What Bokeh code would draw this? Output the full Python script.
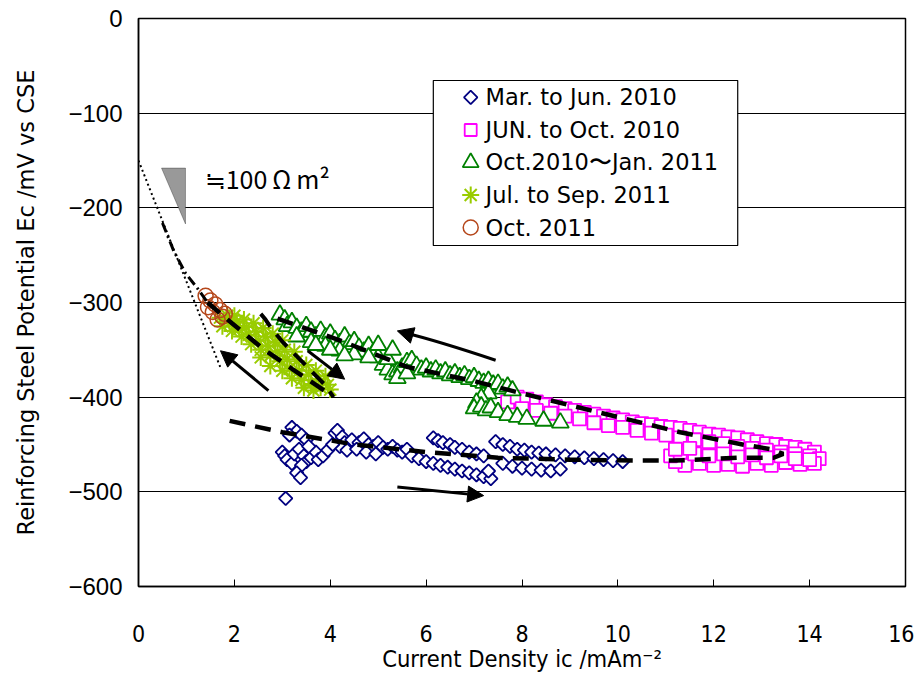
import numpy as np
from bokeh.plotting import figure
from bokeh.models import FixedTicker, Label, Arrow, NormalHead, PolyAnnotation, Range1d
from bokeh.embed import file_html
from bokeh.resources import INLINE

# ---------------- data ----------------
x_ticks = [0, 2, 4, 6, 8, 10, 12, 14, 16]
y_ticks = [-600, -500, -400, -300, -200, -100, 0]
y_tick_labels = ["\u2212600", "\u2212500", "\u2212400", "\u2212300", "\u2212200", "\u2212100", "0"]

series_names = ["Mar. to Jun. 2010", "JUN. to Oct. 2010", "Oct.2010\u301cJan. 2011",
                "Jul. to Sep. 2011", "Oct. 2011"]

mar_jun_2010 = [
    (3.2, -432), (3.3, -436), (3.4, -440), (3.5, -445), (3.15, -440),
    (3.0, -458), (3.05, -462), (3.1, -466), (3.2, -470), (3.25, -460), (3.35, -455),
    (3.45, -462), (3.5, -468), (3.6, -464), (3.7, -458), (3.75, -466), (3.85, -462),
    (3.95, -456), (3.4, -472), (3.55, -452),
    (3.3, -480), (3.38, -485), (3.07, -507),
    (4.1, -438), (4.15, -435), (4.25, -442), (4.3, -448), (4.2, -452), (4.35, -456), (4.05, -450),
    (4.45, -445), (4.6, -448), (4.7, -444), (4.8, -450), (4.9, -452), (5.0, -448), (5.1, -453),
    (5.2, -455), (5.3, -452), (5.4, -456), (5.5, -458), (5.6, -455), (4.55, -455), (4.75, -458),
    (4.95, -460),
    (5.7, -462), (5.85, -465), (6.0, -468), (6.15, -470), (6.3, -472), (6.45, -474), (6.6, -476),
    (6.75, -478), (6.9, -480), (7.05, -482), (7.2, -484), (7.35, -486), (7.3, -478),
    (6.15, -443), (6.25, -446), (6.35, -448), (6.5, -450), (6.6, -453), (6.75, -455), (6.9, -458),
    (7.05, -460), (7.2, -462),
    (7.45, -447), (7.6, -450), (7.75, -452), (7.9, -455), (8.05, -456), (8.2, -458), (8.35, -459),
    (8.5, -460), (8.7, -461), (8.9, -462), (9.1, -463), (9.3, -464), (9.5, -465), (9.7, -466),
    (9.9, -467), (10.1, -468),
    (7.6, -470), (7.8, -473), (8.0, -475), (8.2, -476), (8.4, -477), (8.6, -478), (8.8, -476),
]

jun_oct_2010 = [
    (7.7, -405), (7.9, -400), (8.1, -402), (8.3, -405), (8.5, -408), (8.7, -410), (8.9, -412),
    (9.1, -414), (9.3, -416), (9.5, -418), (9.7, -420), (9.9, -422), (10.1, -424), (10.3, -426),
    (10.5, -428), (10.7, -429), (10.9, -431), (11.1, -432), (11.3, -433), (11.5, -435), (11.7, -437),
    (11.9, -439), (12.1, -440), (12.3, -442), (12.5, -443), (12.7, -445), (12.9, -447), (13.1, -449),
    (13.3, -450), (13.5, -452), (13.7, -453), (13.9, -455), (14.1, -458),
    (8.0, -412), (8.3, -414), (8.6, -417), (8.9, -420), (9.2, -423), (9.5, -427), (9.8, -430),
    (10.1, -432), (10.4, -435), (10.7, -438), (11.0, -440), (11.3, -443), (11.6, -445), (11.9, -447),
    (12.2, -449), (12.5, -452), (12.8, -454), (13.1, -456), (13.4, -458), (13.7, -460), (14.0, -462),
    (14.2, -465),
    (14.1, -470), (13.8, -471), (13.5, -469), (13.2, -472), (12.9, -470), (12.6, -473), (12.3, -471),
    (12.0, -472), (11.7, -470), (11.4, -472), (11.2, -468), (11.1, -462), (11.3, -458), (11.6, -460),
    (11.9, -462), (12.2, -460), (12.5, -463), (12.8, -461), (13.1, -464), (13.4, -462), (13.7, -465),
    (14.0, -466), (11.2, -455), (11.5, -454),
]

oct2010_jan2011 = [
    (2.95, -313), (3.05, -318), (3.1, -325), (3.2, -321), (3.3, -327), (3.4, -331), (3.5, -325),
    (3.6, -331), (3.7, -336), (3.8, -330), (3.9, -337), (4.0, -333), (4.1, -340), (4.2, -343),
    (4.3, -336), (4.4, -344), (4.5, -341), (4.6, -348), (4.7, -352), (4.8, -346), (4.9, -353),
    (5.0, -358), (5.1, -366), (5.2, -371), (5.3, -376), (5.4, -373), (5.5, -369), (5.6, -363),
    (5.7, -361), (5.8, -367), (5.9, -371), (6.0, -369), (6.1, -373), (6.2, -371), (6.3, -375),
    (6.4, -373), (6.5, -377), (6.6, -375), (6.7, -379), (6.8, -377), (6.9, -381), (7.0, -379),
    (7.1, -383), (7.2, -385), (7.3, -383), (7.4, -387), (7.5, -386), (7.6, -391), (7.7, -389),
    (7.8, -393), (7.3, -396), (7.15, -401), (7.05, -406), (7.0, -412), (7.15, -410), (7.25, -414),
    (7.35, -411), (7.5, -416), (7.7, -419), (7.9, -421), (8.1, -423), (8.45, -425), (8.8, -427),
    (3.3, -336), (3.6, -342), (3.9, -346), (4.2, -351), (4.5, -355), (4.8, -358), (4.3, -356),
    (4.0, -350), (3.7, -345), (5.0, -345), (5.2, -360), (5.4, -380), (5.6, -375), (5.3, -350),
]

jul_sep_2011 = [
    (1.7, -316), (1.75, -325), (1.85, -314), (1.9, -322), (1.95, -330), (2.0, -314), (2.05, -320),
    (2.1, -328), (2.15, -336), (2.2, -318), (2.25, -326), (2.3, -334), (2.35, -344), (2.4, -322),
    (2.45, -331), (2.5, -340), (2.55, -350), (2.6, -327), (2.65, -336), (2.7, -346), (2.75, -356),
    (2.8, -333), (2.85, -342), (2.9, -352), (2.95, -362), (3.0, -372), (3.0, -340), (3.05, -350),
    (3.1, -360), (3.15, -370), (3.2, -380), (3.25, -352), (3.3, -362), (3.35, -372), (3.4, -382),
    (3.45, -390), (3.5, -366), (3.55, -376), (3.6, -386), (3.65, -393), (3.7, -372), (3.75, -381),
    (3.8, -390), (3.9, -378), (3.95, -387), (4.0, -392), (2.75, -367), (2.55, -358),
]

oct_2011 = [
    (1.4, -293), (1.5, -298), (1.45, -305), (1.6, -302), (1.55, -310), (1.7, -308), (1.75, -315),
    (1.65, -318), (1.8, -312),
]

# hand-drawn trend lines of the original
trend_main_x = [2.9, 4.2, 5.6, 7.0, 8.0, 9.6, 11.3, 12.6, 13.2, 13.45, 13.25, 12.5, 11.2, 10.5, 9.0, 7.5, 6.0, 4.5, 3.0, 1.9]
trend_main_y = [-317, -340, -368, -383, -396, -416, -437, -450, -455, -460, -464, -464, -467, -467, -466, -464, -458, -450, -437, -425]
trend_jul_x = [1.44, 1.95, 2.6, 3.2, 3.7, 4.05]
trend_jul_y = [-300, -322, -349, -370, -387, -399]
trend_arc_x = [2.55, 2.65, 2.78, 3.03, 3.52, 3.87, 4.07]
trend_arc_y = [-312, -318, -328, -343, -368, -386, -400]
trend_dashdot_x = [0.5, 0.73, 0.98, 1.23, 1.44]
trend_dashdot_y = [-216, -245, -269, -285, -300]
slope_dotted_x = [0.0, 1.72]
slope_dotted_y = [-150, -370]

# ---------------- figure ----------------
p = figure(width=914, height=676, output_backend="svg", toolbar_location=None,
           x_range=Range1d(0, 16), y_range=Range1d(-600, 0),
           min_border_left=138, min_border_right=9, min_border_top=18, min_border_bottom=90)
p.background_fill_color = "white"
p.border_fill_color = "white"
p.outline_line_color = "black"
p.outline_line_width = 1.5

p.xgrid.grid_line_color = None
p.ygrid.grid_line_color = "black"
p.ygrid.grid_line_width = 1

p.xaxis.ticker = FixedTicker(ticks=x_ticks)
p.yaxis.ticker = FixedTicker(ticks=y_ticks)
p.yaxis.major_label_overrides = {t: l for t, l in zip(y_ticks, y_tick_labels)}
for ax in (p.xaxis, p.yaxis):
    ax.axis_line_color = "black"
    ax.axis_line_width = 1.5
    ax.minor_tick_line_color = None
    ax.major_tick_line_color = "black"
    ax.major_label_text_color = "black"
    ax.axis_label_text_color = "black"
    ax.axis_label_text_font_style = "normal"
p.xaxis.major_tick_in = 7
p.xaxis.major_tick_out = 0
p.yaxis.major_tick_in = 0
p.yaxis.major_tick_out = 0

NARROW = "'DejaVu Sans Condensed', Roboto, sans-serif"
p.xaxis.major_label_text_font = NARROW
p.xaxis.major_label_text_font_size = "23px"
p.xaxis.major_label_standoff = 38
p.xaxis.axis_label = "Current Density ic /mAm\u207b\u00b2"
p.xaxis.axis_label_text_font = NARROW
p.xaxis.axis_label_text_font_size = "23.5px"
p.xaxis.axis_label_standoff = 0

p.yaxis.major_label_text_font = "Liberation Sans"
p.yaxis.major_label_text_font_size = "24px"
p.yaxis.major_label_standoff = 16
p.yaxis.axis_label = "Reinforcing Steel Potential Ec /mV vs CSE"
p.yaxis.axis_label_text_font = "DejaVu Sans"
p.yaxis.axis_label_text_font_size = "22.5px"
p.yaxis.axis_label_standoff = 26

NAVY = "#000080"
MAGENTA = "#FF00FF"
GREEN = "#008000"
YGREEN = "#99CC00"
BROWN = "#B5471B"

def xs(pts):
    return [a for a, b in pts]

def ys(pts):
    return [b for a, b in pts]

p.scatter(xs(mar_jun_2010), ys(mar_jun_2010), marker="square", angle=np.pi / 4, size=9.5,
          line_color=NAVY, line_width=1.8, fill_color="white")
p.scatter(xs(jun_oct_2010), ys(jun_oct_2010), marker="square", size=13,
          line_color=MAGENTA, line_width=1.8, fill_color="white")
p.scatter(xs(oct2010_jan2011), ys(oct2010_jan2011), marker="triangle", size=17,
          line_color=GREEN, line_width=1.8, fill_color="white")
p.scatter(xs(jul_sep_2011), ys(jul_sep_2011), marker="asterisk", size=17,
          line_color=YGREEN, line_width=2)
p.scatter(xs(oct_2011), ys(oct_2011), marker="circle", size=15,
          line_color=BROWN, line_width=1.5, fill_color=None)

# trend lines
p.line(trend_main_x, trend_main_y, line_color="black", line_width=4.5, line_dash="16 10")
p.line(trend_jul_x, trend_jul_y, line_color="black", line_width=4.5, line_dash="16 10")
p.line(trend_arc_x, trend_arc_y, line_color="black", line_width=4, line_dash="16 10")
p.line(trend_dashdot_x, trend_dashdot_y, line_color="black", line_width=3, line_dash="10 4 2 4")
p.line(slope_dotted_x, slope_dotted_y, line_color="black", line_width=2, line_dash="2 3")

# slope triangle and label
p.add_layout(PolyAnnotation(xs=[0.48, 0.98, 0.98], ys=[-158, -158, -217],
                            fill_color="#999999", fill_alpha=1, line_color="black", line_width=1))
p.add_layout(Label(x=1.38, y=-169, text="\u2252100\u2009\u03a9\u2009m\u00b2", text_baseline="middle",
                   text_font="Noto Sans CJK JP", text_font_size="25px", text_color="black"))

# arrows
def arrow(x0, y0, x1, y1):
    p.add_layout(Arrow(end=NormalHead(size=16, fill_color="black", line_color="black"),
                       x_start=x0, y_start=y0, x_end=x1, y_end=y1,
                       line_color="black", line_width=3))

arrow(2.71, -393, 1.71, -351)
arrow(3.53, -351, 4.3, -381)
arrow(5.4, -495, 7.2, -504)
p.quadratic(x0=[7.45], y0=[-361], x1=[5.55], y1=[-332], cx=[6.2], cy=[-340],
            line_color="black", line_width=3)
arrow(5.6, -333, 5.4, -330)

# legend (manual, to match layout)
leg_left, leg_right, leg_top, leg_bottom = 6.15, 12.5, -65.5, -239.8
p.quad(left=[leg_left], right=[leg_right], top=[leg_top], bottom=[leg_bottom],
       fill_color="white", line_color="black", line_width=1.2)
leg_rows = [-83.4, -117.8, -152.1, -186.4, -220.8]
leg_mx, leg_tx = 6.93, 7.24
p.scatter([leg_mx], [leg_rows[0]], marker="square", angle=np.pi / 4, size=9.5,
          line_color=NAVY, line_width=1.8, fill_color="white")
p.scatter([leg_mx], [leg_rows[1]], marker="square", size=12,
          line_color=MAGENTA, line_width=1.8, fill_color="white")
p.scatter([leg_mx], [leg_rows[2]], marker="triangle", size=16,
          line_color=GREEN, line_width=1.8, fill_color="white")
p.scatter([leg_mx], [leg_rows[3]], marker="asterisk", size=17,
          line_color=YGREEN, line_width=2)
p.scatter([leg_mx], [leg_rows[4]], marker="circle", size=15,
          line_color=BROWN, line_width=1.5, fill_color=None)
for name, ry in zip(series_names, leg_rows):
    p.add_layout(Label(x=leg_tx, y=ry, text=name, text_baseline="middle",
                       text_font="DejaVu Sans", text_font_size="22.5px", text_color="black"))

open("out.html", "w").write(file_html(p, INLINE))
